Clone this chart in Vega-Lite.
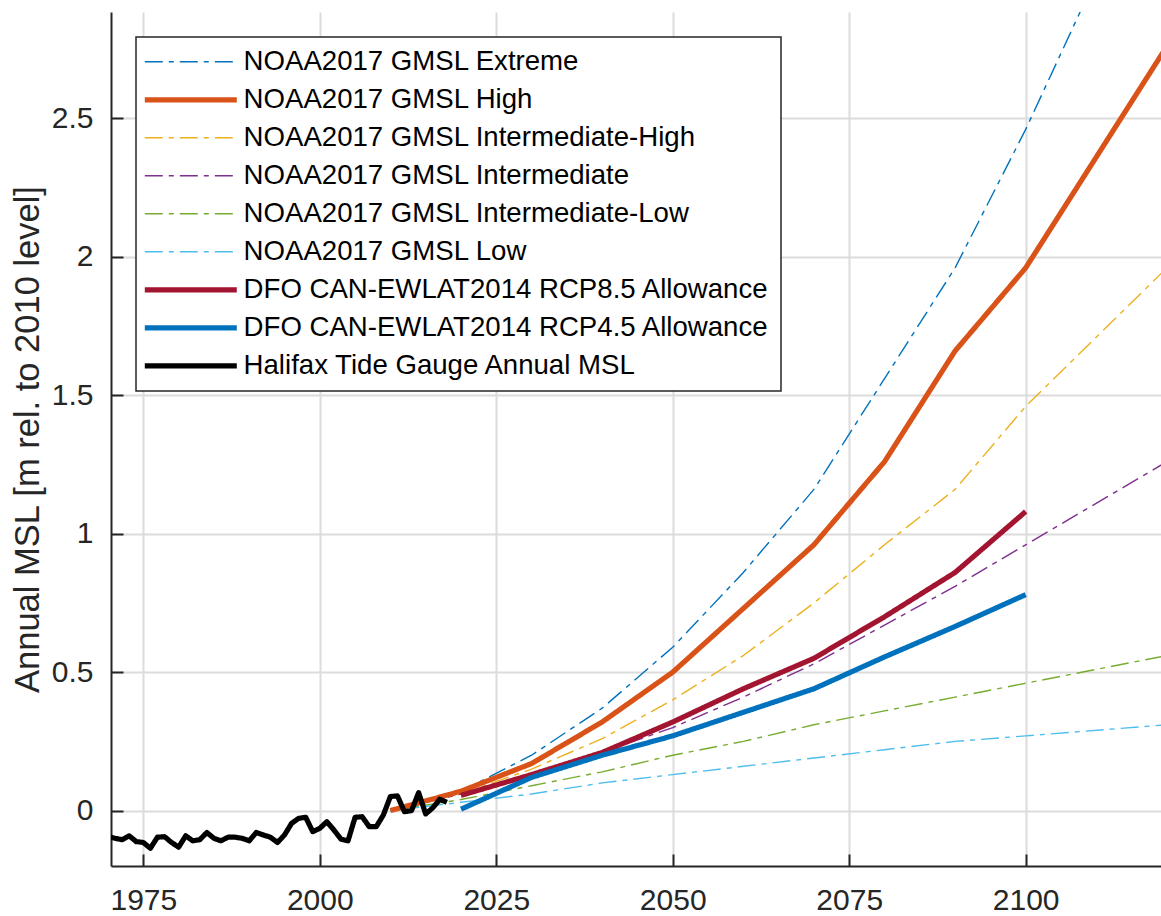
{
  "$schema": "https://vega.github.io/schema/vega-lite/v6.json",
  "width": 1050,
  "height": 854,
  "autosize": {"type": "none"},
  "padding": {"left": 111, "top": 12, "right": 0, "bottom": 50},
  "background": "white",
  "config": {
    "view": {"stroke": null},
    "font": "Liberation Sans",
    "axis": {
      "grid": true,
      "gridColor": "#dcdcdc",
      "gridWidth": 2,
      "domainColor": "#262626",
      "domainWidth": 2,
      "tickColor": "#262626",
      "tickWidth": 2,
      "tickSize": -12,
      "labelFont": "Liberation Sans",
      "labelFontSize": 30,
      "labelColor": "#262626",
      "titleFont": "Liberation Sans",
      "titleFontSize": 34.5,
      "titleFontWeight": "normal",
      "titleColor": "#262626"
    },
    "legend": {
      "strokeColor": "#262626",
      "strokeWidth": 1.5,
      "fillColor": "white"
    }
  },
  "datasets": {
    "noaa": [
      {"series": "NOAA2017 GMSL Extreme", "year": 2010, "msl": 0},
      {"series": "NOAA2017 GMSL Extreme", "year": 2020, "msl": 0.07},
      {"series": "NOAA2017 GMSL Extreme", "year": 2030, "msl": 0.2},
      {"series": "NOAA2017 GMSL Extreme", "year": 2040, "msl": 0.37},
      {"series": "NOAA2017 GMSL Extreme", "year": 2050, "msl": 0.59},
      {"series": "NOAA2017 GMSL Extreme", "year": 2060, "msl": 0.86},
      {"series": "NOAA2017 GMSL Extreme", "year": 2070, "msl": 1.16},
      {"series": "NOAA2017 GMSL Extreme", "year": 2080, "msl": 1.56},
      {"series": "NOAA2017 GMSL Extreme", "year": 2090, "msl": 1.96},
      {"series": "NOAA2017 GMSL Extreme", "year": 2100, "msl": 2.46},
      {"series": "NOAA2017 GMSL Extreme", "year": 2120, "msl": 3.56},
      {"series": "NOAA2017 GMSL Intermediate-High", "year": 2010, "msl": 0},
      {"series": "NOAA2017 GMSL Intermediate-High", "year": 2020, "msl": 0.06},
      {"series": "NOAA2017 GMSL Intermediate-High", "year": 2030, "msl": 0.15},
      {"series": "NOAA2017 GMSL Intermediate-High", "year": 2040, "msl": 0.26},
      {"series": "NOAA2017 GMSL Intermediate-High", "year": 2050, "msl": 0.4},
      {"series": "NOAA2017 GMSL Intermediate-High", "year": 2060, "msl": 0.56},
      {"series": "NOAA2017 GMSL Intermediate-High", "year": 2070, "msl": 0.75},
      {"series": "NOAA2017 GMSL Intermediate-High", "year": 2080, "msl": 0.96},
      {"series": "NOAA2017 GMSL Intermediate-High", "year": 2090, "msl": 1.16},
      {"series": "NOAA2017 GMSL Intermediate-High", "year": 2100, "msl": 1.46},
      {"series": "NOAA2017 GMSL Intermediate-High", "year": 2120, "msl": 1.96},
      {"series": "NOAA2017 GMSL Intermediate", "year": 2010, "msl": 0},
      {"series": "NOAA2017 GMSL Intermediate", "year": 2020, "msl": 0.06},
      {"series": "NOAA2017 GMSL Intermediate", "year": 2030, "msl": 0.12},
      {"series": "NOAA2017 GMSL Intermediate", "year": 2040, "msl": 0.21},
      {"series": "NOAA2017 GMSL Intermediate", "year": 2050, "msl": 0.3},
      {"series": "NOAA2017 GMSL Intermediate", "year": 2060, "msl": 0.41},
      {"series": "NOAA2017 GMSL Intermediate", "year": 2070, "msl": 0.53},
      {"series": "NOAA2017 GMSL Intermediate", "year": 2080, "msl": 0.67},
      {"series": "NOAA2017 GMSL Intermediate", "year": 2090, "msl": 0.81},
      {"series": "NOAA2017 GMSL Intermediate", "year": 2100, "msl": 0.96},
      {"series": "NOAA2017 GMSL Intermediate", "year": 2120, "msl": 1.26},
      {"series": "NOAA2017 GMSL Intermediate-Low", "year": 2010, "msl": 0},
      {"series": "NOAA2017 GMSL Intermediate-Low", "year": 2020, "msl": 0.04},
      {"series": "NOAA2017 GMSL Intermediate-Low", "year": 2030, "msl": 0.09},
      {"series": "NOAA2017 GMSL Intermediate-Low", "year": 2040, "msl": 0.14},
      {"series": "NOAA2017 GMSL Intermediate-Low", "year": 2050, "msl": 0.2},
      {"series": "NOAA2017 GMSL Intermediate-Low", "year": 2060, "msl": 0.25},
      {"series": "NOAA2017 GMSL Intermediate-Low", "year": 2070, "msl": 0.31},
      {"series": "NOAA2017 GMSL Intermediate-Low", "year": 2080, "msl": 0.36},
      {"series": "NOAA2017 GMSL Intermediate-Low", "year": 2090, "msl": 0.41},
      {"series": "NOAA2017 GMSL Intermediate-Low", "year": 2100, "msl": 0.46},
      {"series": "NOAA2017 GMSL Intermediate-Low", "year": 2120, "msl": 0.56},
      {"series": "NOAA2017 GMSL Low", "year": 2010, "msl": 0},
      {"series": "NOAA2017 GMSL Low", "year": 2020, "msl": 0.03},
      {"series": "NOAA2017 GMSL Low", "year": 2030, "msl": 0.06},
      {"series": "NOAA2017 GMSL Low", "year": 2040, "msl": 0.1},
      {"series": "NOAA2017 GMSL Low", "year": 2050, "msl": 0.13},
      {"series": "NOAA2017 GMSL Low", "year": 2060, "msl": 0.16},
      {"series": "NOAA2017 GMSL Low", "year": 2070, "msl": 0.19},
      {"series": "NOAA2017 GMSL Low", "year": 2080, "msl": 0.22},
      {"series": "NOAA2017 GMSL Low", "year": 2090, "msl": 0.25},
      {"series": "NOAA2017 GMSL Low", "year": 2100, "msl": 0.27},
      {"series": "NOAA2017 GMSL Low", "year": 2120, "msl": 0.31},
      {"series": "NOAA2017 GMSL High", "year": 2010, "msl": 0},
      {"series": "NOAA2017 GMSL High", "year": 2020, "msl": 0.07},
      {"series": "NOAA2017 GMSL High", "year": 2030, "msl": 0.17},
      {"series": "NOAA2017 GMSL High", "year": 2040, "msl": 0.32},
      {"series": "NOAA2017 GMSL High", "year": 2050, "msl": 0.5},
      {"series": "NOAA2017 GMSL High", "year": 2060, "msl": 0.73},
      {"series": "NOAA2017 GMSL High", "year": 2070, "msl": 0.96},
      {"series": "NOAA2017 GMSL High", "year": 2080, "msl": 1.26},
      {"series": "NOAA2017 GMSL High", "year": 2090, "msl": 1.66},
      {"series": "NOAA2017 GMSL High", "year": 2100, "msl": 1.96},
      {"series": "NOAA2017 GMSL High", "year": 2120, "msl": 2.76}
    ],
    "dfo": [
      {"series": "DFO CAN-EWLAT2014 RCP8.5 Allowance", "year": 2020, "msl": 0.055},
      {"series": "DFO CAN-EWLAT2014 RCP8.5 Allowance", "year": 2030, "msl": 0.13},
      {"series": "DFO CAN-EWLAT2014 RCP8.5 Allowance", "year": 2040, "msl": 0.21},
      {"series": "DFO CAN-EWLAT2014 RCP8.5 Allowance", "year": 2050, "msl": 0.32},
      {"series": "DFO CAN-EWLAT2014 RCP8.5 Allowance", "year": 2060, "msl": 0.44},
      {"series": "DFO CAN-EWLAT2014 RCP8.5 Allowance", "year": 2070, "msl": 0.55},
      {"series": "DFO CAN-EWLAT2014 RCP8.5 Allowance", "year": 2080, "msl": 0.7},
      {"series": "DFO CAN-EWLAT2014 RCP8.5 Allowance", "year": 2090, "msl": 0.86},
      {"series": "DFO CAN-EWLAT2014 RCP8.5 Allowance", "year": 2100, "msl": 1.08},
      {"series": "DFO CAN-EWLAT2014 RCP4.5 Allowance", "year": 2020, "msl": 0.005},
      {"series": "DFO CAN-EWLAT2014 RCP4.5 Allowance", "year": 2030, "msl": 0.12},
      {"series": "DFO CAN-EWLAT2014 RCP4.5 Allowance", "year": 2040, "msl": 0.2},
      {"series": "DFO CAN-EWLAT2014 RCP4.5 Allowance", "year": 2050, "msl": 0.27},
      {"series": "DFO CAN-EWLAT2014 RCP4.5 Allowance", "year": 2060, "msl": 0.355},
      {"series": "DFO CAN-EWLAT2014 RCP4.5 Allowance", "year": 2070, "msl": 0.44},
      {"series": "DFO CAN-EWLAT2014 RCP4.5 Allowance", "year": 2080, "msl": 0.555},
      {"series": "DFO CAN-EWLAT2014 RCP4.5 Allowance", "year": 2090, "msl": 0.665},
      {"series": "DFO CAN-EWLAT2014 RCP4.5 Allowance", "year": 2100, "msl": 0.78}
    ],
    "gauge": [
      {"series": "Halifax Tide Gauge Annual MSL", "year": 1970, "msl": -0.094},
      {"series": "Halifax Tide Gauge Annual MSL", "year": 1971, "msl": -0.1},
      {"series": "Halifax Tide Gauge Annual MSL", "year": 1972, "msl": -0.105},
      {"series": "Halifax Tide Gauge Annual MSL", "year": 1973, "msl": -0.091},
      {"series": "Halifax Tide Gauge Annual MSL", "year": 1974, "msl": -0.112},
      {"series": "Halifax Tide Gauge Annual MSL", "year": 1975, "msl": -0.115},
      {"series": "Halifax Tide Gauge Annual MSL", "year": 1976, "msl": -0.136},
      {"series": "Halifax Tide Gauge Annual MSL", "year": 1977, "msl": -0.096},
      {"series": "Halifax Tide Gauge Annual MSL", "year": 1978, "msl": -0.094},
      {"series": "Halifax Tide Gauge Annual MSL", "year": 1979, "msl": -0.115},
      {"series": "Halifax Tide Gauge Annual MSL", "year": 1980, "msl": -0.132},
      {"series": "Halifax Tide Gauge Annual MSL", "year": 1981, "msl": -0.091},
      {"series": "Halifax Tide Gauge Annual MSL", "year": 1982, "msl": -0.109},
      {"series": "Halifax Tide Gauge Annual MSL", "year": 1983, "msl": -0.105},
      {"series": "Halifax Tide Gauge Annual MSL", "year": 1984, "msl": -0.079},
      {"series": "Halifax Tide Gauge Annual MSL", "year": 1985, "msl": -0.1},
      {"series": "Halifax Tide Gauge Annual MSL", "year": 1986, "msl": -0.109},
      {"series": "Halifax Tide Gauge Annual MSL", "year": 1987, "msl": -0.096},
      {"series": "Halifax Tide Gauge Annual MSL", "year": 1988, "msl": -0.096},
      {"series": "Halifax Tide Gauge Annual MSL", "year": 1989, "msl": -0.1},
      {"series": "Halifax Tide Gauge Annual MSL", "year": 1990, "msl": -0.109},
      {"series": "Halifax Tide Gauge Annual MSL", "year": 1991, "msl": -0.079},
      {"series": "Halifax Tide Gauge Annual MSL", "year": 1992, "msl": -0.088},
      {"series": "Halifax Tide Gauge Annual MSL", "year": 1993, "msl": -0.096},
      {"series": "Halifax Tide Gauge Annual MSL", "year": 1994, "msl": -0.115},
      {"series": "Halifax Tide Gauge Annual MSL", "year": 1995, "msl": -0.088},
      {"series": "Halifax Tide Gauge Annual MSL", "year": 1996, "msl": -0.046},
      {"series": "Halifax Tide Gauge Annual MSL", "year": 1997, "msl": -0.028},
      {"series": "Halifax Tide Gauge Annual MSL", "year": 1998, "msl": -0.024},
      {"series": "Halifax Tide Gauge Annual MSL", "year": 1999, "msl": -0.076},
      {"series": "Halifax Tide Gauge Annual MSL", "year": 2000, "msl": -0.064},
      {"series": "Halifax Tide Gauge Annual MSL", "year": 2001, "msl": -0.04},
      {"series": "Halifax Tide Gauge Annual MSL", "year": 2002, "msl": -0.07},
      {"series": "Halifax Tide Gauge Annual MSL", "year": 2003, "msl": -0.103},
      {"series": "Halifax Tide Gauge Annual MSL", "year": 2004, "msl": -0.109},
      {"series": "Halifax Tide Gauge Annual MSL", "year": 2005, "msl": -0.024},
      {"series": "Halifax Tide Gauge Annual MSL", "year": 2006, "msl": -0.022},
      {"series": "Halifax Tide Gauge Annual MSL", "year": 2007, "msl": -0.058},
      {"series": "Halifax Tide Gauge Annual MSL", "year": 2008, "msl": -0.058},
      {"series": "Halifax Tide Gauge Annual MSL", "year": 2009, "msl": -0.016},
      {"series": "Halifax Tide Gauge Annual MSL", "year": 2010, "msl": 0.051},
      {"series": "Halifax Tide Gauge Annual MSL", "year": 2011, "msl": 0.053},
      {"series": "Halifax Tide Gauge Annual MSL", "year": 2012, "msl": -0.004},
      {"series": "Halifax Tide Gauge Annual MSL", "year": 2013, "msl": 0.0},
      {"series": "Halifax Tide Gauge Annual MSL", "year": 2014, "msl": 0.065},
      {"series": "Halifax Tide Gauge Annual MSL", "year": 2015, "msl": -0.012},
      {"series": "Halifax Tide Gauge Annual MSL", "year": 2016, "msl": 0.01},
      {"series": "Halifax Tide Gauge Annual MSL", "year": 2017, "msl": 0.041},
      {"series": "Halifax Tide Gauge Annual MSL", "year": 2018, "msl": 0.03}
    ]
  },
  "encoding": {
    "x": {
      "field": "year",
      "type": "quantitative",
      "scale": {"domain": [1970.42, 2119.17], "nice": false, "zero": false},
      "axis": {"title": null, "values": [1975, 2000, 2025, 2050, 2075, 2100], "format": "d", "labelPadding": 31}
    },
    "y": {
      "field": "msl",
      "type": "quantitative",
      "scale": {"domain": [-0.2, 2.884], "nice": false, "zero": false},
      "axis": {"title": "Annual MSL [m rel. to 2010 level]", "values": [0, 0.5, 1, 1.5, 2, 2.5], "format": "~g", "labelPadding": 30, "titlePadding": 6}
    },
    "color": {
      "field": "series",
      "type": "nominal",
      "scale": {
        "domain": ["NOAA2017 GMSL Extreme", "NOAA2017 GMSL High", "NOAA2017 GMSL Intermediate-High", "NOAA2017 GMSL Intermediate", "NOAA2017 GMSL Intermediate-Low", "NOAA2017 GMSL Low", "DFO CAN-EWLAT2014 RCP8.5 Allowance", "DFO CAN-EWLAT2014 RCP4.5 Allowance", "Halifax Tide Gauge Annual MSL"],
        "range": ["#0072BD", "#D95319", "#EDB120", "#7E2F8E", "#77AC30", "#4DBEEE", "#A2142F", "#0072BD", "#000000"]
      },
      "legend": {
        "title": null, "orient": "none", "legendX": 25, "legendY": 25, "direction": "vertical",
        "symbolType": "M-9.2,0H9.2", "symbolSize": 100, "symbolOffset": 30, "labelOffset": 39,
        "padding": 11, "rowPadding": 9, "labelFont": "Liberation Sans", "labelFontSize": 27.6,
        "labelColor": "#000000", "labelLimit": 1000, "fillColor": "white", "strokeColor": "#262626"
      }
    },
    "strokeDash": {
      "field": "series",
      "type": "nominal",
      "scale": {
        "domain": ["NOAA2017 GMSL Extreme", "NOAA2017 GMSL High", "NOAA2017 GMSL Intermediate-High", "NOAA2017 GMSL Intermediate", "NOAA2017 GMSL Intermediate-Low", "NOAA2017 GMSL Low", "DFO CAN-EWLAT2014 RCP8.5 Allowance", "DFO CAN-EWLAT2014 RCP4.5 Allowance", "Halifax Tide Gauge Annual MSL"],
        "range": [[18, 6, 5, 6], [1, 0], [18, 6, 5, 6], [18, 6, 5, 6], [18, 6, 5, 6], [18, 6, 5, 6], [1, 0], [1, 0], [1, 0]]
      },
      "legend": {
        "title": null, "orient": "none", "legendX": 25, "legendY": 25, "direction": "vertical",
        "symbolType": "M-9.2,0H9.2", "symbolSize": 100, "symbolOffset": 30, "labelOffset": 39,
        "padding": 11, "rowPadding": 9, "labelFont": "Liberation Sans", "labelFontSize": 27.6,
        "labelColor": "#000000", "labelLimit": 1000, "fillColor": "white", "strokeColor": "#262626"
      }
    },
    "strokeWidth": {
      "field": "series",
      "type": "nominal",
      "scale": {
        "type": "ordinal",
        "domain": ["NOAA2017 GMSL Extreme", "NOAA2017 GMSL High", "NOAA2017 GMSL Intermediate-High", "NOAA2017 GMSL Intermediate", "NOAA2017 GMSL Intermediate-Low", "NOAA2017 GMSL Low", "DFO CAN-EWLAT2014 RCP8.5 Allowance", "DFO CAN-EWLAT2014 RCP4.5 Allowance", "Halifax Tide Gauge Annual MSL"],
        "range": [1.4, 5.2, 1.4, 1.4, 1.4, 1.4, 5.2, 5.2, 5.2]
      },
      "legend": {
        "title": null, "orient": "none", "legendX": 25, "legendY": 25, "direction": "vertical",
        "symbolType": "M-9.2,0H9.2", "symbolSize": 100, "symbolOffset": 30, "labelOffset": 39,
        "padding": 11, "rowPadding": 9, "labelFont": "Liberation Sans", "labelFontSize": 27.6,
        "labelColor": "#000000", "labelLimit": 1000, "fillColor": "white", "strokeColor": "#262626"
      }
    }
  },
  "layer": [
    {"data": {"name": "noaa"}, "mark": {"type": "line", "clip": true, "strokeJoin": "round"}},
    {"data": {"name": "dfo"}, "mark": {"type": "line", "clip": true, "strokeJoin": "round"}},
    {"data": {"name": "gauge"}, "mark": {"type": "line", "clip": true, "strokeJoin": "round"}}
  ]
}
